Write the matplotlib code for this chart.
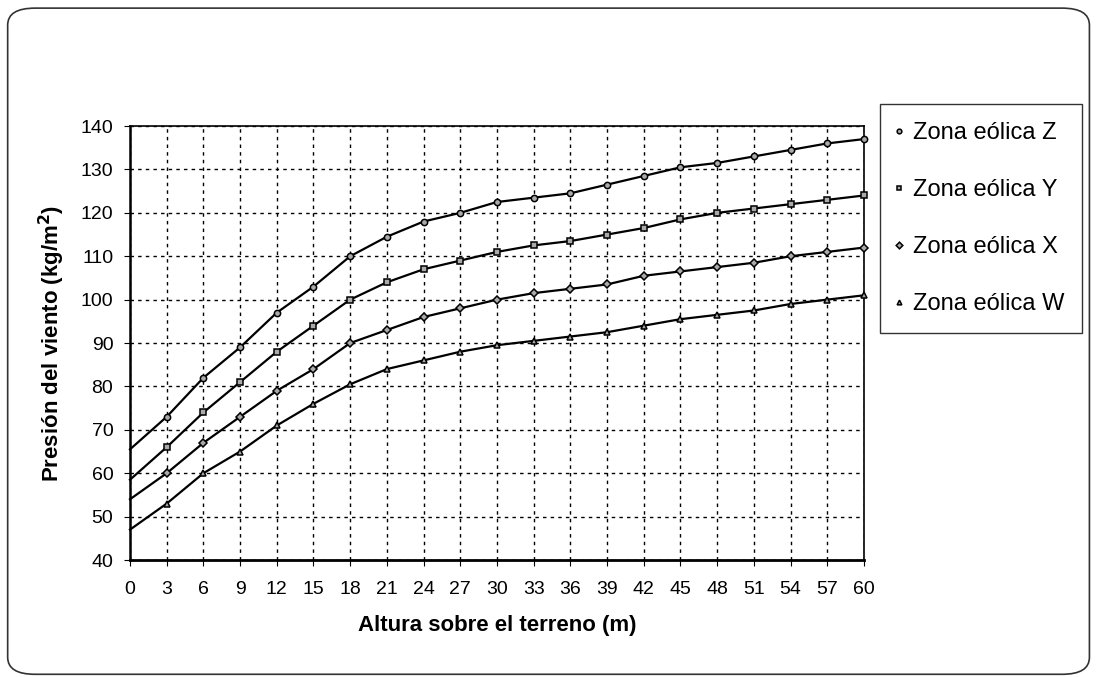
#!/usr/bin/env python3
"""
Presión del viento vs altura - zonas eólicas W, X, Y, Z
"""

import matplotlib
matplotlib.use('Agg')
import matplotlib.pyplot as plt
from matplotlib.patches import FancyBboxPatch

plt.rcParams['font.family'] = ['Liberation Sans', 'DejaVu Sans']

# Altura (m)
altura = [0, 3, 6, 9, 12, 15, 18, 21, 24, 27, 30, 33, 36, 39, 42, 45, 48, 51, 54, 57, 60]

# Presión del viento (kg/m2) por zona
zona_z = [65.5, 73, 82, 89, 97, 103, 110, 114.5, 118, 120, 122.5, 123.5, 124.5, 126.5, 128.5,
          130.5, 131.5, 133, 134.5, 136, 137]
zona_y = [58.5, 66, 74, 81, 88, 94, 100, 104, 107, 109, 111, 112.5, 113.5, 115, 116.5,
          118.5, 120, 121, 122, 123, 124]
zona_x = [54, 60, 67, 73, 79, 84, 90, 93, 96, 98, 100, 101.5, 102.5, 103.5, 105.5,
          106.5, 107.5, 108.5, 110, 111, 112]
zona_w = [47, 53, 60, 65, 71, 76, 80.5, 84, 86, 88, 89.5, 90.5, 91.5, 92.5, 94,
          95.5, 96.5, 97.5, 99, 100, 101]

series = [
    ('Zona eólica Z', zona_z, 'o'),
    ('Zona eólica Y', zona_y, 's'),
    ('Zona eólica X', zona_x, 'D'),
    ('Zona eólica W', zona_w, '^'),
]

fig = plt.figure(figsize=(10.96, 6.77), dpi=100)
ax = fig.add_axes([0.1186, 0.1728, 0.6697, 0.641])

for label, vals, mk in series:
    ax.plot(altura, vals, color='black', linewidth=1.6, marker=mk, markersize=4.5,
            markerfacecolor='#aaaaaa', markeredgecolor='black', markeredgewidth=1.1,
            markevery=list(range(1, len(altura))), label=label, clip_on=False, zorder=3)

ax.set_xlim(0, 60)
ax.set_ylim(40, 140)
ax.set_xticks(altura)
ax.set_yticks(range(40, 141, 10))
ax.tick_params(axis='both', labelsize=14, length=4, direction='out', color='black')
ax.tick_params(axis='x', pad=11)
ax.tick_params(axis='y', pad=8)
ax.grid(True, color='black', linestyle=(0, (2.5, 3)), linewidth=1.0)
for s in ax.spines.values():
    s.set_linewidth(1.2)
ax.spines['bottom'].set_linewidth(2.0)
ax.spines['left'].set_linewidth(1.8)

ax.set_xlabel('Altura sobre el terreno (m)', fontsize=16, fontweight='bold', labelpad=12)
ax.set_ylabel('Presión del viento (kg/m$^\\mathbf{2}$)', fontsize=16, fontweight='bold', labelpad=10)

leg = fig.legend(loc='upper left', bbox_to_anchor=(0.803, 0.846), fontsize=17,
                 frameon=True, fancybox=False, labelspacing=1.48, handlelength=0.1,
                 handletextpad=0.55, borderpad=0.75, borderaxespad=0, markerscale=0.75)
leg.get_frame().set_edgecolor('black')
leg.get_frame().set_linewidth(1.0)
for h in leg.legend_handles:
    h.set_linestyle('none')

# marco exterior redondeado
border = FancyBboxPatch((0.007, 0.004), 0.987, 0.984, boxstyle='round,pad=0,rounding_size=0.025',
                        transform=fig.transFigure, fill=False, edgecolor='#333333', linewidth=1.2)
fig.patches.append(border)

plt.savefig('out.png', dpi=100)
